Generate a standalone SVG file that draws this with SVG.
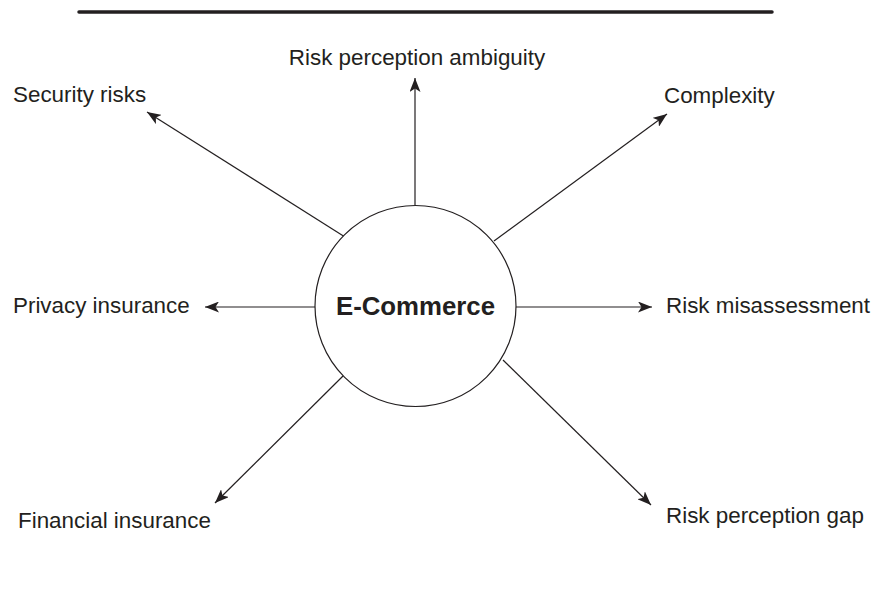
<svg xmlns="http://www.w3.org/2000/svg" width="873" height="600" viewBox="0 0 873 600">
<style>
.lbl{font-family:"Liberation Sans",Arial,sans-serif;font-size:22.4px;fill:#231f20}
.ctr{font-family:"Liberation Sans",Arial,sans-serif;font-size:25.8px;font-weight:bold;fill:#231f20}
.conn line{stroke:#231f20;stroke-width:1.2;marker-end:url(#ah)}
</style>
<defs>
<marker id="ah" viewBox="0 0 14 11" refX="14" refY="5.5" markerWidth="14" markerHeight="11" markerUnits="userSpaceOnUse" orient="auto">
<path d="M0,0 L14,5.5 L0,11 L3.5,5.5 Z" fill="#231f20"/>
</marker>
</defs>
<rect width="873" height="600" fill="#fff"/>
<line x1="79" y1="12" x2="772" y2="12" stroke="#231f20" stroke-width="3.5" stroke-linecap="round"/>
<g id="connectors" class="conn">
<line x1="415" y1="205" x2="415" y2="78"/>
<line x1="345" y1="237" x2="147" y2="112"/>
<line x1="494" y1="241" x2="667" y2="114"/>
<line x1="315" y1="307" x2="205" y2="307"/>
<line x1="516" y1="307" x2="652" y2="307"/>
<line x1="343" y1="376" x2="215" y2="503"/>
<line x1="503" y1="360" x2="651" y2="505"/>
</g>
<g id="ecommerce">
<circle cx="415.5" cy="306" r="100.5" fill="#fff" stroke="#231f20" stroke-width="1.2"/>
<text class="ctr" x="415.5" y="315" text-anchor="middle">E-Commerce</text>
</g>
<g id="ambiguity"><text class="lbl" x="417" y="65" text-anchor="middle">Risk perception ambiguity</text></g>
<g id="security"><text class="lbl" x="13" y="102">Security risks</text></g>
<g id="complexity"><text class="lbl" x="664" y="103">Complexity</text></g>
<g id="privacy"><text class="lbl" x="13" y="313">Privacy insurance</text></g>
<g id="misassessment"><text class="lbl" x="666" y="313">Risk misassessment</text></g>
<g id="financial"><text class="lbl" x="18" y="528">Financial insurance</text></g>
<g id="gap"><text class="lbl" x="666" y="523">Risk perception gap</text></g>
</svg>
